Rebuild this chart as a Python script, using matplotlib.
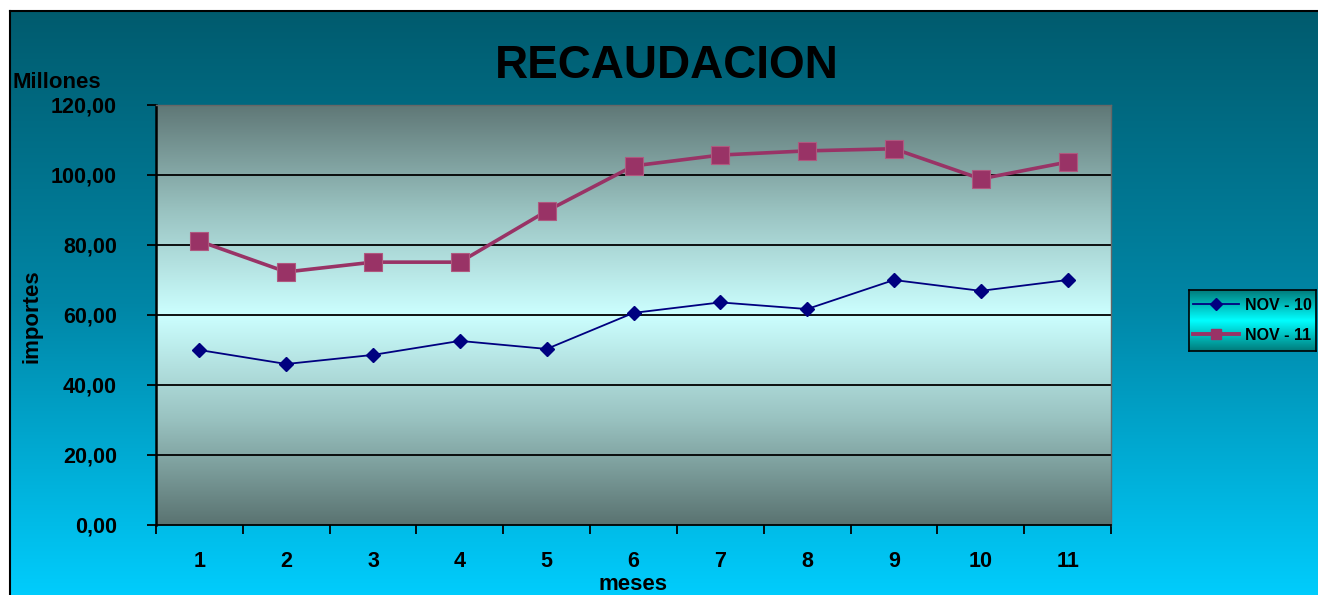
import numpy as np
import matplotlib
matplotlib.use("Agg")
import matplotlib.pyplot as plt
from matplotlib.colors import LinearSegmentedColormap
from matplotlib.lines import Line2D

plt.rcParams["font.family"] = ["Liberation Sans", "DejaVu Sans"]
plt.rcParams["font.weight"] = "bold"

# ── data ──────────────────────────────────────────────────────────────────────
meses = [1, 2, 3, 4, 5, 6, 7, 8, 9, 10, 11]
nov_10 = [50.0, 46.0, 48.6, 52.6, 50.3, 60.6, 63.6, 61.7, 70.0, 66.9, 70.0]
nov_11 = [81.1, 72.3, 75.1, 75.1, 89.7, 102.6, 105.7, 106.9, 107.5, 98.9, 103.7]
series_labels = ["NOV - 10", "NOV - 11"]
y_ticks = [0, 20, 40, 60, 80, 100, 120]

W, H = 1318, 595
fig = plt.figure(figsize=(W / 100, H / 100), dpi=100)
fig.patch.set_facecolor("white")


def px(x0, y0, x1, y1):
    """pixel box (top-left origin) -> figure rect"""
    return [x0 / W, 1 - y1 / H, (x1 - x0) / W, (y1 - y0) / H]


# ── chart background (vertical gradient) ─────────────────────────────────────
bg = fig.add_axes(px(10, 11, W + 2, H + 2), zorder=-10)
bg_cmap = LinearSegmentedColormap.from_list("bg", ["#005b6e", "#0086a6", "#00cdfd"])
bg.imshow(np.linspace(0, 1, 256).reshape(-1, 1), cmap=bg_cmap, aspect="auto",
          extent=[0, 1, 0, 1], origin="upper")
bg.set_xlim(0, 1)
bg.set_ylim(0, 1)
bg.set_xticks([])
bg.set_yticks([])
for side, sp in bg.spines.items():
    sp.set_visible(side in ("left", "top"))
    sp.set_linewidth(1.5)
    sp.set_color("black")

# ── plot area ─────────────────────────────────────────────────────────────────
ax = fig.add_axes(px(156, 105, 1111, 525))
pa_cmap = LinearSegmentedColormap.from_list(
    "pa", ["#5f7776", "#99c2c0", "#ccffff", "#99c2c0", "#5a7371"])
ax.imshow(np.linspace(0, 1, 256).reshape(-1, 1), cmap=pa_cmap, aspect="auto",
          extent=[0, 1, 0, 1], transform=ax.transAxes, zorder=0)

for v in y_ticks[1:-1]:
    ax.axhline(v, color="black", lw=1.3, zorder=1)

ax.plot(meses, nov_10, color="#000080", lw=1.3, marker="D", ms=7,
        mfc="#000080", mec="#000080", zorder=3, label=series_labels[0])
ax.plot(meses, nov_11, color="#993366", lw=2.6, marker="s", ms=13,
        mfc="#993366", mec="#b0587f", mew=0.8, zorder=3, label=series_labels[1])

ax.set_xlim(0.5, 11.5)
ax.set_ylim(0, 120)
ax.set_yticks(y_ticks)
ax.set_yticklabels([f"{v:.2f}".replace(".", ",") for v in y_ticks])
ax.set_xticks(meses)
ax.set_xticks(np.arange(0.5, 12, 1), minor=True)
ax.tick_params(axis="x", which="major", length=0, pad=18.5, labelsize=15.5)
ax.tick_params(axis="x", which="minor", length=6.5, width=1.3, direction="out")
ax.tick_params(axis="y", length=6.5, width=1.3, direction="out", pad=21.5,
               labelsize=15.5)
for lab in ax.get_xticklabels() + ax.get_yticklabels():
    lab.set_fontweight("bold")

ax.spines["left"].set_linewidth(1.8)
ax.spines["bottom"].set_linewidth(1.3)
ax.spines["top"].set_color("#666666")
ax.spines["right"].set_color("#666666")
ax.spines["top"].set_linewidth(1.0)
ax.spines["right"].set_linewidth(1.0)

# ── texts ─────────────────────────────────────────────────────────────────────
fig.text(667 / W, 1 - 66 / H, "RECAUDACION", ha="center", va="center",
         fontsize=33, fontweight="bold")
fig.text(13 / W, 1 - 83 / H, "Millones", ha="left", va="center",
         fontsize=16, fontweight="bold")
fig.text(32 / W, 1 - 316 / H, "importes", ha="center", va="center",
         rotation=90, fontsize=16, fontweight="bold")
fig.text(633 / W, 1 - 584 / H, "meses", ha="center", va="center",
         fontsize=16, fontweight="bold")

# ── legend ────────────────────────────────────────────────────────────────────
lg = fig.add_axes(px(1189, 290, 1316, 351), zorder=5)
lg_cmap = LinearSegmentedColormap.from_list("lg", ["#007b7b", "#00ffff", "#007b7b"])
lg.imshow(np.linspace(0, 1, 256).reshape(-1, 1), cmap=lg_cmap, aspect="auto",
          extent=[0, 1, 0, 1], origin="upper")
lg.set_xticks([])
lg.set_yticks([])
for sp in lg.spines.values():
    sp.set_linewidth(1.2)
    sp.set_color("black")
handles = [
    Line2D([], [], color="#000080", lw=1.3, marker="D", ms=6, mfc="#000080"),
    Line2D([], [], color="#993366", lw=2.8, marker="s", ms=7.5, mfc="#993366"),
]
leg = lg.legend(handles, series_labels, loc="center", frameon=False,
                prop={"weight": "bold", "size": 11.5}, handlelength=2.9,
                handletextpad=0.35, labelspacing=0.95, borderaxespad=0,
                borderpad=0)

fig.savefig("out.png", dpi=100)
plt.close(fig)
